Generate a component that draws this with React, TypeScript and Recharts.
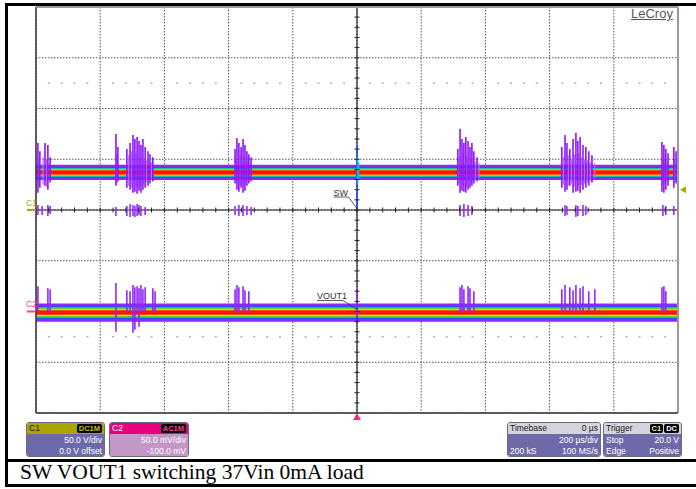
import React from "react";
import {
  ComposedChart,
  XAxis,
  YAxis,
  CartesianGrid,
  Area,
  Line,
  Scatter,
  ReferenceLine,
  ReferenceDot,
} from "recharts";

// time base: 200 us/div, trigger at 0 us
const timeTicks = [-1000, -800, -600, -400, -200, 0, 200, 400, 600, 800, 1000];
// C1: 50 V/div, 0 V offset
const c1Ticks = [-200, -150, -100, -50, 0, 50, 100, 150, 200];
// C2: 50 mV/div, -100 mV offset
const c2Domain = [-100, 300];

// persistence band of each trace: level and spread of each colour layer
const swLevel = 37;
const swSpread = [7.5, 5.5, 4.5, 3.8, 3, 2.4, 1.8];
const voutLevel = -1;
const voutSpread = [9, 6.5, 5.5, 4.5, 3.6, 2.8, 2];
const persistColors = ["#9226ff", "#2f4cff", "#00c2dc", "#25d23c", "#f0e400", "#ff8a00", "#ff1212"];

// SW switching bursts: [time us, peak V, low V]
const swSpikes = [
  [-994, 66, 17], [-988, 58, 22], [-972, 66, 24], [-963, 64, 20], [-956, 52, 27],
  [-751, 75, 24], [-745, 62, 28], [-717, 60, 22], [-707, 66, 20], [-698, 74, 17],
  [-692, 70, 18], [-685, 72, 16], [-679, 68, 19], [-673, 64, 17], [-667, 70, 20],
  [-660, 62, 22], [-651, 58, 24], [-645, 55, 26], [-636, 52, 28],
  [-380, 60, 26], [-374, 71, 20], [-368, 66, 18], [-361, 62, 22], [-355, 70, 17],
  [-349, 64, 19], [-343, 58, 24], [-337, 55, 26], [-330, 52, 28],
  [314, 60, 24], [321, 80, 17], [327, 70, 19], [333, 66, 18], [339, 72, 17],
  [346, 68, 20], [352, 62, 22], [358, 66, 24], [364, 58, 26], [374, 52, 28],
  [638, 62, 22], [648, 74, 18], [654, 66, 20], [663, 60, 24], [673, 70, 17],
  [682, 76, 18], [688, 68, 19], [695, 72, 17], [704, 64, 20], [713, 62, 22],
  [722, 58, 24], [732, 54, 27],
  [950, 67, 18], [956, 64, 17], [962, 60, 20], [969, 56, 24], [987, 62, 22], [994, 58, 26],
];

// fainter ringing around the same bursts: [time us, peak V, low V]
const swFaint = [
  [-991, 48, 26], [-978, 52, 25], [-967, 50, 23],
  [-748, 55, 26], [-711, 54, 24], [-702, 58, 22], [-688, 56, 23], [-676, 52, 24],
  [-664, 50, 25], [-655, 49, 27], [-640, 47, 30],
  [-377, 50, 27], [-364, 54, 24], [-352, 52, 25], [-340, 48, 28],
  [318, 52, 26], [330, 56, 24], [342, 54, 23], [355, 50, 26], [368, 48, 29], [380, 46, 31],
  [643, 52, 25], [658, 54, 24], [668, 50, 26], [677, 55, 23], [691, 56, 24],
  [699, 52, 25], [709, 50, 26], [718, 49, 27], [727, 47, 29], [740, 46, 31],
  [953, 52, 25], [959, 50, 26], [966, 48, 28], [990, 50, 27],
];

// SW low-side excursions around 0 V
const swLowMarks = [
  [-994, 5, -5], [-981, 4, -5], [-963, 5, -6], [-956, 4, -4],
  [-751, 3, -6], [-717, 4, -6], [-707, 6, -7], [-698, 5, -6], [-692, 4, -7],
  [-685, 6, -6], [-679, 5, -5], [-673, 4, -6], [-660, 3, -5],
  [-380, 4, -5], [-368, 5, -6], [-355, 5, -6], [-343, 4, -5], [-330, 3, -5],
  [321, 5, -6], [333, 6, -7], [346, 5, -6], [358, 4, -5],
  [648, 5, -6], [654, 4, -5], [682, 5, -7], [688, 4, -6], [704, 5, -6], [713, 4, -5],
  [953, 5, -6], [962, 4, -5], [987, 4, -5],
];

// trigger edge at 0 us
const swEdge = [[0, 64, -3]];
const swRing = [[2, 52, 26], [5, 47, 30]];

// VOUT1 ripple bursts: [time us, peak mV, low mV]
const voutSpikes = [
  [-994, 25, 0], [-963, 23, 0], [-956, 22, 0],
  [-751, 28, -20], [-717, 21, 0], [-707, 20, 0], [-698, 26, -21], [-692, 24, -18],
  [-685, 25, 0], [-679, 23, -15], [-673, 26, 0], [-667, 22, 0], [-660, 24, 0],
  [-636, 23, 0], [-629, 20, 0],
  [-380, 22, 0], [-374, 26, 0], [-368, 24, 0], [-355, 25, 0], [-349, 21, 0], [-337, 20, 0],
  [0, 21, -8],
  [321, 24, 0], [327, 26, 0], [333, 22, 0], [346, 25, 0], [352, 23, 0], [364, 20, 0],
  [638, 22, 0], [648, 26, 0], [663, 24, 0], [673, 21, 0], [682, 26, 0], [695, 23, 0],
  [704, 25, 0], [722, 20, 0], [741, 22, 0],
  [950, 24, 0], [956, 25, 0], [962, 20, 0],
];

const triggerLevel = 20;

// graticule sub-divisions (1/5 div)
const subTimes = Array.from({ length: 49 }, (_, i) => -960 + i * 40);
const subVolts = Array.from({ length: 39 }, (_, i) => -190 + i * 10);

const streaks = (rows: number[][]) =>
  rows.flatMap(([t, hi, lo]) => [
    { t, v: hi },
    { t, v: lo },
    { t, v: null },
  ]);

const band = (level: number, half: number) => [
  { t: -1000, r: [level - half, level + half] },
  { t: 1000, r: [level - half, level + half] },
];

const xTickData = subTimes.map((t) => ({ t, v: 0 }));
const yTickData = subVolts.map((v) => ({ t: 0, v }));
const dotRowData = subTimes
  .filter((t) => t % 200 !== 0)
  .flatMap((t) => [
    { t, v: 125 },
    { t, v: -125 },
  ]);

const sans = "'Liberation Sans', Arial, sans-serif";

const Badge = ({ text, color }: { text: string; color: string }) => (
  <span
    style={{
      background: "#000",
      color,
      borderRadius: 2,
      padding: "0 2px",
      fontWeight: "bold",
      fontSize: 7.5,
      lineHeight: "9px",
      marginLeft: 1,
    }}
  >
    {text}
  </span>
);

type PanelProps = {
  left: number;
  width: number;
  headBg: string;
  headColor: string;
  headLeft: string;
  headRight: React.ReactNode;
  bodyBg: string;
  rows: [string, string][];
};

const Panel = ({ left, width, headBg, headColor, headLeft, headRight, bodyBg, rows }: PanelProps) => (
  <div
    style={{
      position: "absolute",
      left,
      top: 422,
      width,
      height: 35,
      borderRadius: 3,
      border: "1px solid #6a6a7a",
      boxSizing: "border-box",
      overflow: "hidden",
      fontFamily: sans,
      fontSize: 8.5,
    }}
  >
    <div
      style={{
        background: headBg,
        color: headColor,
        height: 11,
        lineHeight: "11px",
        display: "flex",
        justifyContent: "space-between",
        alignItems: "center",
        padding: "0 2px",
      }}
    >
      <span>{headLeft}</span>
      <span>{headRight}</span>
    </div>
    <div style={{ background: bodyBg, color: "#fff", height: 24, padding: "1px 2px 0" }}>
      {rows.map(([a, b], i) => (
        <div
          key={i}
          style={{ display: "flex", justifyContent: "space-between", height: 10.5, lineHeight: "10.5px" }}
        >
          <span>{a}</span>
          <span>{b}</span>
        </div>
      ))}
    </div>
  </div>
);

export default function App() {
  return (
    <div style={{ position: "absolute", left: 0, top: 0, width: 696, height: 489, background: "#fff" }}>
      <ComposedChart width={696} height={489} margin={{ top: 7, right: 18, bottom: 76, left: 36 }}>
        <XAxis dataKey="t" type="number" domain={[-1000, 1000]} ticks={timeTicks} hide allowDataOverflow />
        <YAxis yAxisId="c1" type="number" domain={[-200, 200]} ticks={c1Ticks} hide allowDataOverflow />
        <YAxis yAxisId="c2" type="number" domain={c2Domain} hide allowDataOverflow />
        <CartesianGrid yAxisId="c1" stroke="#555" strokeDasharray="1.5 1.5" />

        <Scatter
          yAxisId="c1"
          data={dotRowData}
          dataKey="v"
          isAnimationActive={false}
          shape={(p: any) => <rect x={p.cx - 1} y={p.cy - 0.5} width={2} height={1} fill="#888" />}
        />

        <ReferenceLine yAxisId="c1" x={0} stroke="#222" strokeWidth={1.2} />
        <ReferenceLine yAxisId="c1" y={0} stroke="#222" strokeWidth={1.2} />
        <Scatter
          yAxisId="c1"
          data={xTickData}
          dataKey="v"
          isAnimationActive={false}
          shape={(p: any) => <line x1={p.cx} x2={p.cx} y1={p.cy - 2.5} y2={p.cy + 2.5} stroke="#222" />}
        />
        <Scatter
          yAxisId="c1"
          data={yTickData}
          dataKey="v"
          isAnimationActive={false}
          shape={(p: any) => <line x1={p.cx - 2.5} x2={p.cx + 2.5} y1={p.cy} y2={p.cy} stroke="#222" />}
        />

        {/* burst streaks sit behind the persistence bands */}
        <Line
          yAxisId="c1"
          data={streaks(swFaint)}
          dataKey="v"
          stroke="#b46cff"
          strokeWidth={1.2}
          dot={false}
          isAnimationActive={false}
        />
        <Line
          yAxisId="c1"
          data={streaks(swSpikes)}
          dataKey="v"
          stroke="#8f14ff"
          strokeWidth={1.6}
          dot={false}
          isAnimationActive={false}
        />
        <Line
          yAxisId="c1"
          data={streaks(swLowMarks)}
          dataKey="v"
          stroke="#9a2cff"
          strokeWidth={1.6}
          dot={false}
          isAnimationActive={false}
        />
        <Line
          yAxisId="c2"
          data={streaks(voutSpikes)}
          dataKey="v"
          stroke="#9226ff"
          strokeWidth={1.6}
          dot={false}
          isAnimationActive={false}
        />

        {swSpread.map((h, i) => (
          <Area
            key={"sw" + i}
            yAxisId="c1"
            data={band(swLevel, h)}
            dataKey="r"
            type="linear"
            fill={persistColors[i]}
            fillOpacity={1}
            stroke="none"
            isAnimationActive={false}
          />
        ))}
        {voutSpread.map((h, i) => (
          <Area
            key={"vo" + i}
            yAxisId="c2"
            data={band(voutLevel, h)}
            dataKey="r"
            type="linear"
            fill={persistColors[i]}
            fillOpacity={1}
            stroke="none"
            isAnimationActive={false}
          />
        ))}

        <Line
          yAxisId="c1"
          data={streaks(swEdge)}
          dataKey="v"
          stroke="#2f4cff"
          strokeWidth={1.6}
          dot={false}
          isAnimationActive={false}
        />
        <Line
          yAxisId="c1"
          data={streaks(swRing)}
          dataKey="v"
          stroke="#00c2dc"
          strokeWidth={1.4}
          dot={false}
          isAnimationActive={false}
        />

        {/* graticule border */}
        <ReferenceLine yAxisId="c1" x={-1000} stroke="#333" strokeWidth={1.5} />
        <ReferenceLine yAxisId="c1" x={1000} stroke="#999" strokeWidth={2} />
        <ReferenceLine yAxisId="c1" y={200} stroke="#999" strokeWidth={2} />
        <ReferenceLine yAxisId="c1" y={-200} stroke="#333" strokeWidth={1.5} />

        {/* channel ground markers */}
        <ReferenceDot
          yAxisId="c1"
          x={-1000}
          y={0}
          shape={(p: any) => (
            <g>
              <text x={p.cx - 10} y={p.cy - 4} fontSize={8.5} fontFamily={sans} fill="#aaa300">
                C1
              </text>
              <line x1={p.cx - 9} x2={p.cx} y1={p.cy} y2={p.cy} stroke="#aaa300" strokeWidth={2} />
            </g>
          )}
        />
        <ReferenceDot
          yAxisId="c2"
          x={-1000}
          y={0}
          shape={(p: any) => (
            <g>
              <text x={p.cx - 10} y={p.cy - 4.5} fontSize={8.5} fontFamily={sans} fill="#ff3c8c">
                C2
              </text>
              <line x1={p.cx - 9} x2={p.cx} y1={p.cy} y2={p.cy} stroke="#ff3c8c" strokeWidth={2} />
            </g>
          )}
        />
        {/* trigger level and trigger position */}
        <ReferenceDot
          yAxisId="c1"
          x={1000}
          y={triggerLevel}
          shape={(p: any) => (
            <polygon
              points={`${p.cx + 2},${p.cy} ${p.cx + 8},${p.cy - 3.5} ${p.cx + 8},${p.cy + 3.5}`}
              fill="#aaa300"
            />
          )}
        />
        <ReferenceDot
          yAxisId="c1"
          x={0}
          y={-200}
          shape={(p: any) => (
            <polygon
              points={`${p.cx},${p.cy} ${p.cx - 4},${p.cy + 7} ${p.cx + 4},${p.cy + 7}`}
              fill="#ff2a82"
            />
          )}
        />

        {/* trace labels */}
        <ReferenceDot
          yAxisId="c1"
          x={0}
          y={0}
          shape={(p: any) => (
            <g stroke="#333" strokeWidth={0.8}>
              <line x1={p.cx - 0.5} y1={p.cy - 2} x2={p.cx - 8.5} y2={p.cy - 13} />
              <line x1={p.cx - 23.5} y1={p.cy - 13} x2={p.cx - 8.5} y2={p.cy - 13} />
              <text x={p.cx - 23.5} y={p.cy - 14.5} fontSize={9} fontFamily={sans} fill="#333" stroke="none">
                SW
              </text>
            </g>
          )}
        />
        <ReferenceDot
          yAxisId="c2"
          x={0}
          y={2}
          shape={(p: any) => (
            <g stroke="#333" strokeWidth={0.8}>
              <line x1={p.cx} y1={p.cy} x2={p.cx - 14} y2={p.cy - 9} />
              <line x1={p.cx - 40} y1={p.cy - 9} x2={p.cx - 14} y2={p.cy - 9} />
              <text x={p.cx - 40} y={p.cy - 10.5} fontSize={9} fontFamily={sans} fill="#333" stroke="none">
                VOUT1
              </text>
            </g>
          )}
        />
      </ComposedChart>

      <div
        style={{
          position: "absolute",
          left: 631,
          top: 6,
          fontFamily: sans,
          fontSize: 13,
          color: "#555",
          textDecoration: "underline",
        }}
      >
        LeCroy
      </div>

      <Panel
        left={26}
        width={79}
        headBg="#aaa500"
        headColor="#1a1a1a"
        headLeft="C1"
        headRight={<Badge text="DC1M" color="#c8c000" />}
        bodyBg="#6e6aa9"
        rows={[
          ["", "50.0 V/div"],
          ["", "0.0 V offset"],
        ]}
      />
      <Panel
        left={109}
        width={80}
        headBg="#e8007c"
        headColor="#fff"
        headLeft="C2"
        headRight={<Badge text="AC1M" color="#ff3c9c" />}
        bodyBg="#c596c8"
        rows={[
          ["", "50.0 mV/div"],
          ["", "-100.0 mV"],
        ]}
      />
      <Panel
        left={507}
        width={94}
        headBg="#d4d4dc"
        headColor="#1a1a1a"
        headLeft="Timebase"
        headRight="0 µs"
        bodyBg="#6e6aa9"
        rows={[
          ["", "200 µs/div"],
          ["200 kS", "100 MS/s"],
        ]}
      />
      <Panel
        left={603}
        width={79}
        headBg="#d4d4dc"
        headColor="#1a1a1a"
        headLeft="Trigger"
        headRight={
          <>
            <Badge text="C1" color="#e8e8b0" />
            <Badge text="DC" color="#fff" />
          </>
        }
        bodyBg="#6e6aa9"
        rows={[
          ["Stop", "20.0 V"],
          ["Edge", "Positive"],
        ]}
      />

      {/* outer frame and caption row */}
      <div style={{ position: "absolute", left: 5, top: 3, width: 2.5, height: 483, background: "#000" }} />
      <div style={{ position: "absolute", left: 5, top: 3, width: 691, height: 2.5, background: "#000" }} />
      <div style={{ position: "absolute", left: 5, top: 459, width: 691, height: 2.5, background: "#000" }} />
      <div style={{ position: "absolute", left: 5, top: 484, width: 691, height: 2.5, background: "#000" }} />
      <div
        style={{
          position: "absolute",
          left: 20,
          top: 460,
          fontFamily: "'Liberation Serif', 'Times New Roman', serif",
          fontSize: 21.5,
          lineHeight: "24px",
          color: "#000",
          whiteSpace: "nowrap",
        }}
      >
        SW VOUT1 switching 37Vin 0mA load
      </div>
    </div>
  );
}
